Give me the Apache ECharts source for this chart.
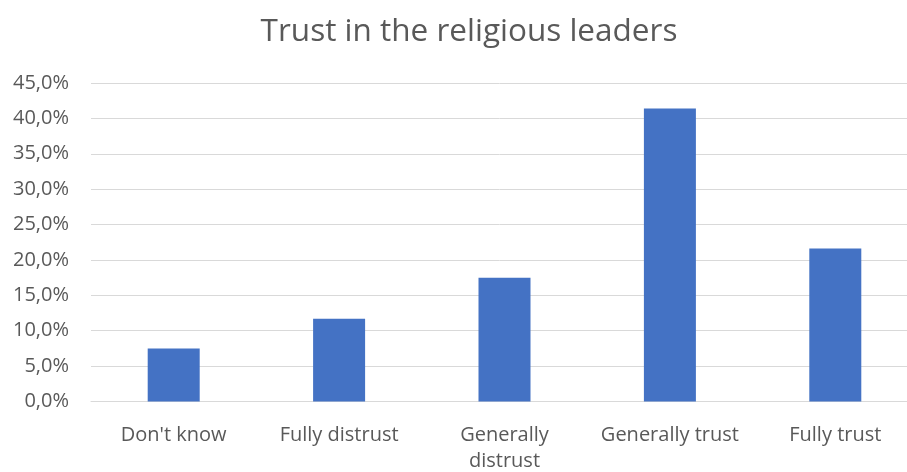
<!DOCTYPE html>
<html>
<head>
<meta charset="utf-8">
<script src="https://cdn.jsdelivr.net/npm/echarts@6/dist/echarts.min.js"></script>
<style>html,body{margin:0;padding:0;background:#fff}#c{width:907px;height:472px}</style>
</head>
<body>
<div id="c"></div>
<script>
var categories = ["Don't know", "Fully distrust", "Generally\ndistrust", "Generally trust", "Fully trust"];
var values = [7.5, 11.7, 17.5, 41.4, 21.6];
var title = "Trust in the religious leaders";

var chart = echarts.init(document.getElementById('c'), null, {renderer: 'canvas'});
var font = "'Open Sans', 'Noto Sans', sans-serif";
chart.setOption({
  animation: false,
  backgroundColor: '#ffffff',
  title: {
    text: title,
    left: 464, textAlign: 'center', top: 11,
    textStyle: {fontFamily: font, fontSize: 31.5, fontWeight: 'normal', color: '#595959'}
  },
  grid: {left: 91, top: 83, width: 827, height: 318.5, outerBoundsMode: 'none', containLabel: false},
  xAxis: {
    type: 'category',
    data: categories,
    axisLine: {show: true, lineStyle: {color: '#d9d9d9', width: 1}},
    axisTick: {show: false},
    axisLabel: {fontFamily: font, fontSize: 20, color: '#595959', margin: 21, lineHeight: 26, interval: 0}
  },
  yAxis: {
    type: 'value',
    min: 0, max: 45, interval: 5,
    axisLine: {show: false},
    axisTick: {show: false},
    splitLine: {lineStyle: {color: '#d9d9d9', width: 1}},
    axisLabel: {
      fontFamily: font, fontSize: 20, color: '#595959', margin: 22,
      formatter: function (v) { return v.toFixed(1).replace('.', ',') + '%'; }
    }
  },
  series: [{
    type: 'bar',
    data: values,
    barWidth: 52,
    itemStyle: {color: '#4472c4'}
  }]
});
</script>
</body>
</html>
